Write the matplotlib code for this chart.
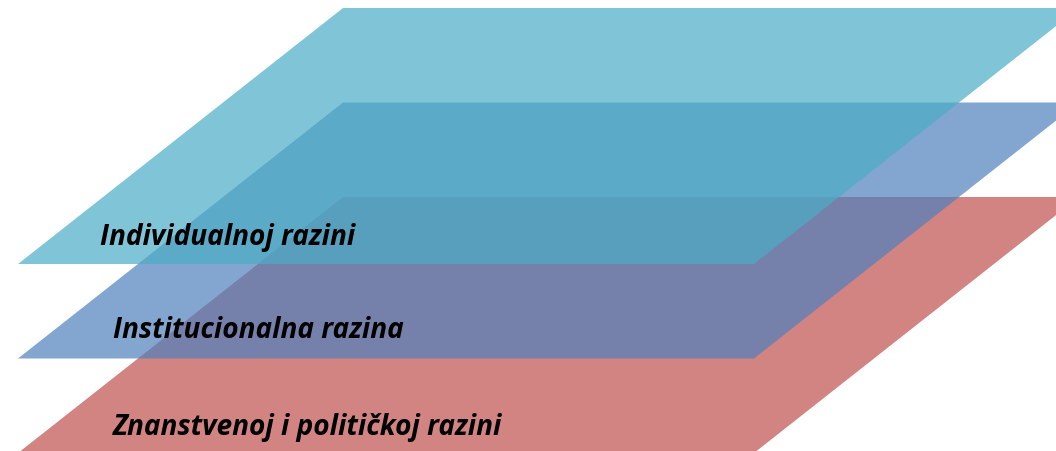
import matplotlib.pyplot as plt
from matplotlib.patches import Polygon

# layers, bottom to top
levels = ['Znanstvenoj i političkoj razini', 'Institucionalna razina', 'Individualnoj razini']
colors = ['#C0504D', '#4F81BD', '#4BACC6']

fig = plt.figure(figsize=(10.56, 4.51), dpi=100)
ax = fig.add_axes([0, 0, 1, 1])
ax.set_xlim(0, 1056)
ax.set_ylim(451, 0)
ax.axis('off')

width = 736
height = 256
skew = 325
step = 94.5
left = 18

for i, (name, col) in enumerate(zip(levels, colors)):
    top = 8 + step * (len(levels) - 1 - i)
    bottom = top + height
    pts = [(left, bottom), (left + width, bottom),
           (left + width + skew, top), (left + skew, top)]
    ax.add_patch(Polygon(pts, closed=True, facecolor=col, alpha=0.7,
                         edgecolor='none'))

label_pos = [(113, 428), (113, 331), (100, 238)]
for name, (x, y) in zip(levels, label_pos):
    ax.text(x, y, name, fontsize=20.2, fontweight='bold', fontstyle='italic',
            family='Open Sans', va='center', ha='left', color='black')

fig.savefig('out.png', dpi=100)
